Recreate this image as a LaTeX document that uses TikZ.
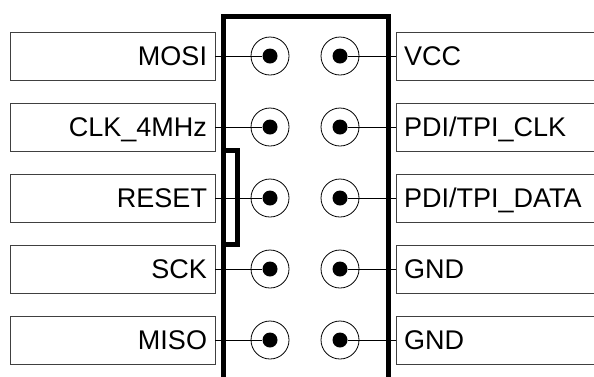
\documentclass[tikz,border=0pt]{standalone}
\usepackage{fontspec}
\setmainfont{Liberation Sans}
\begin{document}
\begin{tikzpicture}[x=1pt,y=-1pt,
  lbl/.style={draw=black!75, line width=0.9pt, minimum height=48pt, inner xsep=8pt, inner ysep=0pt,
              text height=19.5pt, text depth=0pt, font=\fontsize{27}{30}\selectfont},
  lbox/.style={lbl, text width=189pt, align=right},
  rbox/.style={lbl, text width=192pt, align=left},
  pin/.style={circle, draw, line width=0.8pt, minimum size=38pt, inner sep=0pt},
  pdot/.style={circle, fill, minimum size=15pt, inner sep=0pt},
  wire/.style={line width=0.8pt},
  frame/.style={line width=5pt, line join=miter}]
\useasboundingbox (0,0) rectangle (594,376);
\clip (0,0) rectangle (594,376);
% header frame
\draw[frame] (223,385) -- (223,16) -- (388,16) -- (388,385);
\draw[frame] (223,150) -- (237,150) -- (237,244) -- (223,244);
% left labels
\node[lbox] (L1) at (112.5,56)  {MOSI};
\node[lbox] (L2) at (112.5,127) {CLK\_4MHz};
\node[lbox] (L3) at (112.5,198) {RESET};
\node[lbox] (L4) at (112.5,269) {SCK};
\node[lbox] (L5) at (112.5,340) {MISO};
% right labels
\node[rbox] (R1) at (500,56)  {VCC};
\node[rbox] (R2) at (500,127) {PDI/TPI\_CLK};
\node[rbox] (R3) at (500,198) {PDI/TPI\_DATA};
\node[rbox] (R4) at (500,269) {GND};
\node[rbox] (R5) at (500,340) {GND};
% pins
\foreach \i/\y in {1/56,2/127,3/198,4/269,5/340}{
  \node[pin] (PL\i) at (270,\y) {};
  \node[pdot] (DL\i) at (270,\y) {};
  \node[pin] (PR\i) at (340,\y) {};
  \node[pdot] (DR\i) at (340,\y) {};
  \draw[wire] (L\i.east) -- (DL\i);
  \draw[wire] (DR\i) -- (R\i.west);
}
\end{tikzpicture}
\end{document}
